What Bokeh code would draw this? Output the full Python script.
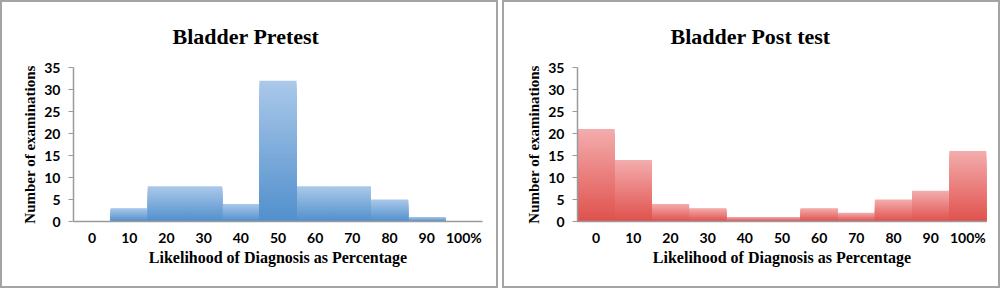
from bokeh.plotting import figure
from bokeh.models import FactorRange, Range1d, ColumnDataSource
from bokeh.layouts import row
from bokeh.embed import file_html
from bokeh.resources import INLINE

categories = ["0", "10", "20", "30", "40", "50", "60", "70", "80", "90", "100%"]
pretest = [0, 3, 8, 8, 4, 32, 8, 8, 5, 1, 0]
posttest = [21, 14, 4, 3, 1, 1, 3, 2, 5, 7, 16]
y_ticks = [0, 5, 10, 15, 20, 25, 30, 35]

blue_top, blue_bottom = (170, 200, 233), (82, 144, 205)
red_top, red_bottom = (243, 172, 172), (224, 82, 78)

SERIF = "Liberation Serif"
SANS = "Lato"
NSLICE = 40


def hexc(c):
    return "#%02x%02x%02x" % tuple(int(round(v)) for v in c)


def make(title, values, top_c, bot_c, left_border, right_border, title_offset):
    p = figure(
        x_range=FactorRange(*categories, range_padding=0),
        y_range=Range1d(0, 35),
        frame_width=405, frame_height=150,
        min_border_left=left_border, min_border_right=right_border,
        min_border_top=65, min_border_bottom=69,
        output_backend="svg", toolbar_location=None,
        title=title,
    )
    p.title.text_font = SERIF
    p.title.text_font_size = "22px"
    p.title.text_font_style = "bold"
    p.title.text_color = "#000000"
    p.title.align = "left"
    p.title.offset = title_offset
    p.title.standoff = 37
    p.outline_line_color = None
    p.xgrid.grid_line_color = None
    p.ygrid.grid_line_color = None
    p.background_fill_color = "white"
    p.border_fill_color = "white"

    # gradient bars: stacked overlapping layers from tall/light to short/dark
    for i in range(NSLICE):
        frac = (NSLICE - i) / NSLICE
        t = i / (NSLICE - 1)
        col = tuple(top_c[k] + (bot_c[k] - top_c[k]) * t for k in range(3))
        src = ColumnDataSource(dict(x=categories, top=[v * frac for v in values]))
        p.vbar(x="x", top="top", bottom=0, width=1.0, source=src,
               fill_color=hexc(col), line_color=None)

    ax = p.xaxis[0]
    ax.axis_label = "Likelihood of Diagnosis as Percentage"
    ax.axis_label_text_font = SERIF
    ax.axis_label_text_font_size = "16px"
    ax.axis_label_text_font_style = "bold"
    ax.axis_label_text_color = "#000000"
    ax.axis_label_standoff = 0
    ax.major_label_text_font = SANS
    ax.major_label_text_font_size = "14px"
    ax.major_label_text_font_style = "bold"
    ax.major_label_text_color = "#000000"
    ax.major_label_standoff = 7
    ax.major_tick_in = 0
    ax.major_tick_out = 0
    ax.major_tick_line_color = None
    ax.minor_tick_line_color = None
    ax.axis_line_color = "#9a9a9a"
    ax.axis_line_width = 1.5

    ay = p.yaxis[0]
    ay.ticker = y_ticks
    ay.axis_label = "Number of examinations"
    ay.axis_label_text_font = SERIF
    ay.axis_label_text_font_size = "15px"
    ay.axis_label_text_font_style = "bold"
    ay.axis_label_text_color = "#000000"
    ay.axis_label_standoff = 3
    ay.major_label_text_font = SANS
    ay.major_label_text_font_size = "14px"
    ay.major_label_text_font_style = "bold"
    ay.major_label_text_color = "#000000"
    ay.major_label_standoff = 8
    ay.major_tick_in = 0
    ay.major_tick_out = 5
    ay.major_tick_line_color = "#9a9a9a"
    ay.minor_tick_line_color = None
    ay.axis_line_color = "#9a9a9a"
    ay.axis_line_width = 1.5
    p.styles = {"border": "2px solid #a4a4a4"}
    return p


p1 = make("Bladder Pretest", pretest, blue_top, blue_bottom, 71, 18, 99)
p2 = make("Bladder Post test", posttest, red_top, red_bottom, 73, 16, 93)
layout = row(p1, p2, spacing=4)

open("out.html", "w").write(file_html(layout, INLINE))
